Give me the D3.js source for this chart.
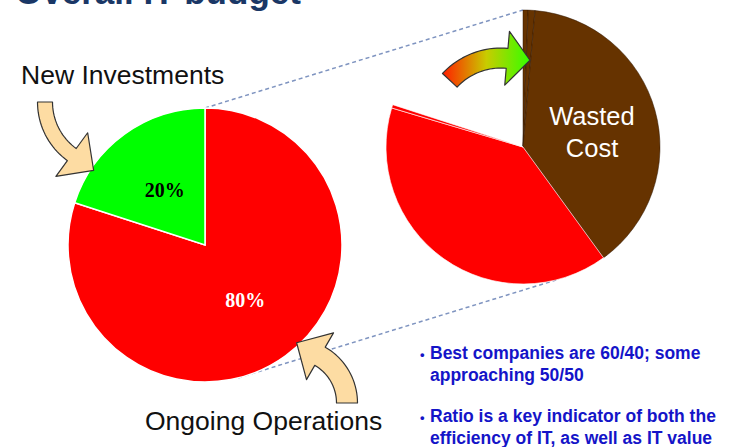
<!DOCTYPE html>
<html>
<head>
<meta charset="utf-8">
<script src="https://cdn.jsdelivr.net/npm/d3@7"></script>
<style>
  body { margin: 0; background: #fff; }
  text { font-family: "Liberation Sans", Arial, sans-serif; }
</style>
</head>
<body>
<div id="chart"></div>
<script>
// values
const titleText = "Overall IT budget"
const leftLabels = ["Ongoing Operations", "New Investments"]
const leftValues = [80, 20]
const leftPercent = ["80%", "20%"]
const rightParts = ["Wasted Cost", "Wasted Cost", "Wasted Cost", "Ongoing Operations", "Ongoing Operations", "New Investments"]
const rightValues = [0.6, 0.8, 38.6, 39.6, 0.4, 20]
const bulletLines = [
  ["Best companies are 60/40; some", "approaching 50/50"],
  ["Ratio is a key indicator of both the", "efficiency of IT, as well as IT value"]
]

const width = 732
const height = 447
const radius = 137
const leftCenter = [205, 245]
const rightCenter = [523, 147]
// both dashed connectors join the two pies at the same angle
const connectorAngles = [0, 166 * Math.PI / 180]

const fillColor = d3.scaleOrdinal()
  .domain(["Ongoing Operations", "New Investments", "Wasted Cost"])
  .range(["#ff0000", "#00ff00", "#663300"])

var svg = d3.select("#chart")
  .append("svg")
    .attr("width", width)
    .attr("height", height)

var defs = svg.append("defs")
var grad = defs.append("linearGradient")
    .attr("id", "goGrad")
    .attr("gradientUnits", "userSpaceOnUse")
    .attr("x1", 443).attr("y1", 0)
    .attr("x2", 530).attr("y2", 0)
grad.append("stop").attr("offset", 0).attr("stop-color", "#ff2000")
grad.append("stop").attr("offset", 0.5).attr("stop-color", "#c8cc00")
grad.append("stop").attr("offset", 1).attr("stop-color", "#33ff00")

// Title (the slide shows only its lower part)
svg.append("text")
    .attr("x", 15)
    .attr("y", 4)
    .attr("font-size", 35)
    .attr("font-weight", "bold")
    .attr("fill", "#1a3766")
    .text(titleText)

// Dashed connectors between the pies
svg.selectAll("line.connector")
  .data(connectorAngles).enter()
  .append("line")
    .attr("class", "connector")
    .attr("x1", a => leftCenter[0] + d3.pointRadial(a, radius)[0])
    .attr("y1", a => leftCenter[1] + d3.pointRadial(a, radius)[1])
    .attr("x2", a => rightCenter[0] + d3.pointRadial(a, radius)[0])
    .attr("y2", a => rightCenter[1] + d3.pointRadial(a, radius)[1])
    .attr("stroke", "#7f94c0")
    .attr("stroke-width", 1.5)
    .attr("stroke-dasharray", "4,3")

var pie = d3.pie().sort(null).value(d => d)
var arc = d3.arc().innerRadius(0).outerRadius(radius)

// Left pie
var leftG = svg.append("g")
    .attr("transform", `translate(${leftCenter})`)

var leftArcs = pie(leftValues)

leftG.selectAll("path")
  .data(leftArcs).enter()
  .append("path")
    .attr("d", arc)
    .attr("fill", (d, i) => fillColor(leftLabels[i]))
    .attr("stroke", "#fff")
    .attr("stroke-width", 1.5)

leftG.selectAll("text")
  .data(leftArcs).enter()
  .append("text")
    .attr("transform", d => `translate(${arc.centroid(d)})`)
    .attr("text-anchor", "middle")
    .attr("dy", "0.35em")
    .style("font-family", "'Liberation Serif', 'Times New Roman', serif")
    .attr("font-size", 20)
    .attr("font-weight", "bold")
    .attr("fill", (d, i) => i === 0 ? "#fff" : "#000")
    .text((d, i) => leftPercent[i])

// Right pie: the new investments slice is left out
var rightG = svg.append("g")
    .attr("transform", `translate(${rightCenter})`)

rightG.selectAll("path")
  .data(pie(rightValues).filter((d, i) => rightParts[i] !== "New Investments")).enter()
  .append("path")
    .attr("d", arc)
    .attr("fill", d => fillColor(rightParts[d.index]))
    .attr("stroke", d => rightParts[d.index] === "Wasted Cost" ? "#2a1200" : "#fff")
    .attr("stroke-width", d => rightParts[d.index] === "Wasted Cost" ? 0.6 : 0.8)
    .attr("stroke-opacity", 0.8)

rightG.append("text")
    .attr("text-anchor", "middle")
    .attr("font-size", 25.5)
    .attr("fill", "#fff")
  .selectAll("tspan")
  .data(["Wasted", "Cost"]).enter()
  .append("tspan")
    .attr("x", 69)
    .attr("y", (d, i) => -22 + i * 32)
    .text(d => d)

// Block arrow that follows a circular arc (angles in screen radians)
function blockArrow(c, r, t0, t1, w, headHalf, headLen) {
  var dir = t1 > t0 ? 1 : -1
  var ts = d3.range(0, 21).map(k => t0 + (t1 - t0) * k / 20)
  var at = (rr, t) => [c[0] + rr * Math.cos(t), c[1] + rr * Math.sin(t)]
  var outer = ts.map(t => at(r + w / 2, t))
  var inner = ts.map(t => at(r - w / 2, t)).reverse()
  var mid = at(r, t1)
  var tip = [mid[0] - dir * Math.sin(t1) * headLen, mid[1] + dir * Math.cos(t1) * headLen]
  var pts = outer.concat([at(r + headHalf, t1), tip, at(r - headHalf, t1)], inner)
  return d3.line()(pts) + "Z"
}

const deg = Math.PI / 180

// Arrow to "New Investments"
svg.append("path")
    .attr("d", blockArrow([110, 102], 65, 180 * deg, 126 * deg, 15, 27, 27))
    .attr("fill", "#fddca3")
    .attr("stroke", "#333")
    .attr("stroke-width", 1.2)
    .attr("stroke-linejoin", "round")

// Arrow to "Ongoing Operations"
svg.append("path")
    .attr("d", blockArrow([293, 403], 54, 0, -60 * deg, 21, 27, 27))
    .attr("fill", "#fddca3")
    .attr("stroke", "#333")
    .attr("stroke-width", 1.2)
    .attr("stroke-linejoin", "round")

// Red-to-green arrow on the right pie
svg.append("path")
    .attr("d", blockArrow([501, 128], 70, -137 * deg, -85 * deg, 20, 27, 23))
    .attr("fill", "url(#goGrad)")
    .attr("stroke", "#333")
    .attr("stroke-width", 1.2)
    .attr("stroke-linejoin", "round")

// Labels
svg.append("text")
    .attr("x", 21)
    .attr("y", 84)
    .attr("font-size", 26.5)
    .attr("fill", "#111")
    .text(leftLabels[1])

svg.append("text")
    .attr("x", 145)
    .attr("y", 430)
    .attr("font-size", 26.5)
    .attr("fill", "#111")
    .text(leftLabels[0])

// Bullet notes
var notes = svg.append("g")
    .attr("font-size", 17.5)
    .attr("font-weight", "bold")
    .attr("fill", "#1414c8")

bulletLines.forEach((lines, b) => {
  var y0 = 359 + b * 63
  notes.append("text")
      .attr("x", 420)
      .attr("y", y0)
      .attr("font-size", 13)
      .text("\u2022")
  lines.forEach((line, i) => {
    notes.append("text")
        .attr("x", 430)
        .attr("y", y0 + i * 22)
        .text(line)
  })
})
</script>
